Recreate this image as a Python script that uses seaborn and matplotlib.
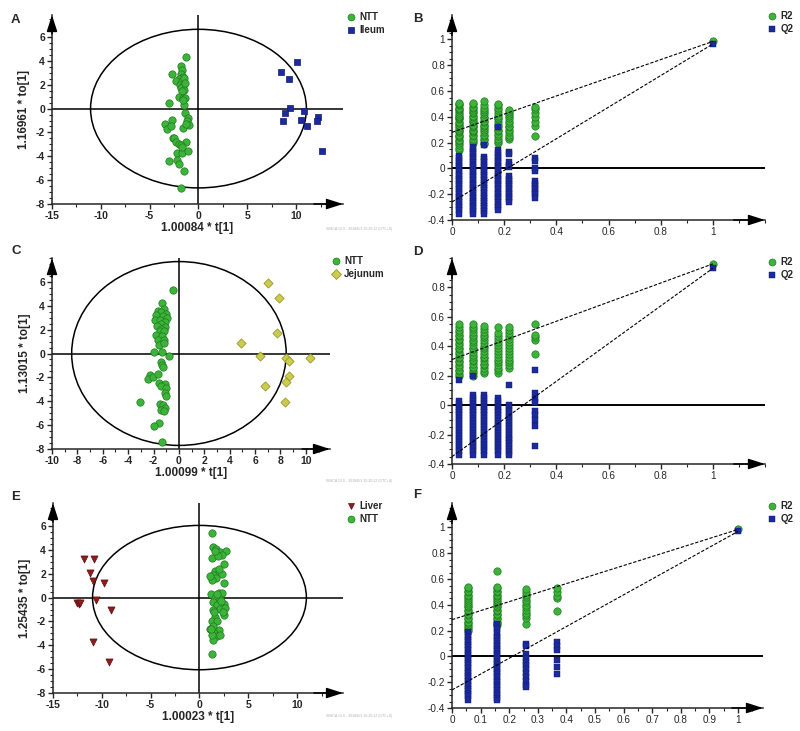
import numpy as np
import pandas as pd
import matplotlib
matplotlib.use("Agg")
import matplotlib.pyplot as plt
import seaborn as sns
from matplotlib.patches import Ellipse
from matplotlib.lines import Line2D
from matplotlib.ticker import MultipleLocator, FixedLocator

sns.set_style("ticks")
plt.rcParams["font.family"] = ["Liberation Sans", "DejaVu Sans"]

# ---------------- data: score plots ----------------
A_NTT_X = [-1.27, -1.78, -1.68, -2.7, -1.78, -1.6, -1.95, -2.3, -1.68, -1.9, -1.55, -1.8, -1.45, -1.7, -1.95, -1.6,
           -1.4, -3.0, -1.45, -1.4, -1.03, -1.2, -2.75, -1.0, -3.4, -3.2, -2.85, -1.55, -2.65, -2.5, -2.3, -1.27,
           -1.95, -1.78, -2.2, -1.68, -1.1, -3.0, -2.2, -1.95, -1.47, -1.78, -1.45, -1.4, -1.55, -1.27, -1.7]
A_NTT_Y = [4.3, 3.55, 3.27, 2.9, 2.9, 2.65, 2.5, 2.3, 2.3, 2.0, 1.9, 1.7, 1.6, 1.45, 0.95, 0.9, 0.85, 0.45, 0.3,
           -0.4, -0.8, -1.0, -0.95, -1.4, -1.3, -1.75, -1.5, -1.65, -2.45, -2.5, -2.8, -2.8, -2.95, -3.05, -3.7,
           -3.7, -3.55, -4.4, -4.35, -4.65, -5.25, -6.65, 2.55, 2.15, 0.75, -1.25, -3.2]
A_ILEUM_X = [10.07, 8.4, 9.25, 9.4, 10.8, 8.9, 12.2, 8.65, 10.5, 12.1, 11.15, 12.6]
A_ILEUM_Y = [3.9, 3.1, 2.45, 0.08, -0.2, -0.4, -0.73, -1.0, -0.95, -1.05, -1.45, -3.55]

C_NTT_X = [-0.45, -1.3, -1.2, -1.65, -1.4, -1.0, -1.8, -1.26, -0.95, -1.87, -1.53, -1.13, -1.4, -1.73, -1.08, -1.4,
           -1.53, -1.2, -1.8, -1.3, -1.66, -1.2, -1.58, -1.2, -1.97, -1.35, -0.8, -1.45, -1.35, -1.26, -2.3, -2.4,
           -2.05, -1.68, -1.58, -1.13, -1.4, -1.0, -1.08, -1.0, -3.1, -1.53, -1.26, -1.08, -1.4, -1.2, -1.58, -2.0,
           -1.37]
C_NTT_Y = [5.3, 4.25, 3.75, 3.55, 3.45, 3.3, 3.2, 3.1, 3.0, 2.78, 2.78, 2.65, 2.45, 2.28, 2.2, 2.08, 1.9, 1.85,
           1.55, 1.5, 1.17, 1.1, 0.7, 0.9, 0.1, 0.1, -0.2, -0.7, -0.97, -1.15, -1.8, -2.15, -1.95, -1.75, -2.5,
           -2.55, -2.7, -2.9, -3.3, -3.6, -4.05, -4.25, -4.35, -4.6, -4.7, -4.85, -5.8, -6.1, -7.45]
C_JEJ_X = [7.05, 7.9, 7.75, 4.9, 6.4, 8.45, 8.7, 10.3, 8.65, 6.8, 8.4, 8.35]
C_JEJ_Y = [5.9, 4.65, 1.7, 0.85, -0.2, -0.35, -0.6, -0.4, -1.85, -2.75, -2.4, -4.05]

E_LIVER_X = [-11.8, -10.85, -11.2, -10.9, -9.8, -12.5, -12.3, -12.2, -10.6, -9.1, -10.9, -9.3]
E_LIVER_Y = [3.2, 3.2, 2.1, 1.4, 1.25, -0.45, -0.5, -0.42, -0.22, -1.05, -3.75, -5.4]
E_NTT_X = [1.31, 1.34, 1.68, 2.06, 2.74, 2.3, 1.3, 1.92, 2.47, 1.54, 1.95, 2.3, 1.4, 1.71, 2.47, 1.33, 1.2, 1.95,
           2.3, 1.61, 2.1, 1.4, 2.47, 1.78, 2.1, 1.4, 2.57, 2.47, 1.61, 1.3, 1.78, 1.4, 1.03, 1.95, 1.47, 1.78,
           1.4, 1.3, 2.06, 1.3, 1.1, 1.6, 2.2, 1.5, 1.2, 2.0, 1.8, 2.4]
E_NTT_Y = [5.44, 4.27, 4.08, 3.8, 3.94, 3.6, 3.3, 3.45, 2.83, 2.27, 2.13, 2.0, 1.9, 1.67, 1.22, 1.5, 0.33, 0.4,
           0.4, 0.0, -0.15, -0.4, -0.5, -0.6, -0.95, -1.05, -0.9, -1.45, -1.6, -2.0, -2.0, -2.4, -2.67, -2.72,
           -2.96, -3.2, -3.56, -4.75, -3.1, -3.1, 1.8, 3.9, -0.3, -1.2, -2.6, 2.4, 0.3, -1.2]

# ---------------- data: permutation plots ----------------
B_X = [0.027, 0.08, 0.123, 0.176, 0.22, 0.317]
B_R2 = [
    [0.14, 0.16, 0.18, 0.2, 0.21, 0.22, 0.24, 0.25, 0.26, 0.28, 0.29, 0.3, 0.31, 0.33, 0.34, 0.35, 0.36, 0.38,
     0.39, 0.4, 0.41, 0.42, 0.44, 0.45, 0.46, 0.47, 0.49, 0.5, 0.51],
    [0.2, 0.21, 0.23, 0.25, 0.26, 0.28, 0.29, 0.3, 0.32, 0.33, 0.34, 0.36, 0.37, 0.38, 0.4, 0.41, 0.43, 0.44,
     0.45, 0.47, 0.48, 0.5, 0.51],
    [0.19, 0.2, 0.22, 0.23, 0.25, 0.26, 0.28, 0.3, 0.31, 0.33, 0.34, 0.36, 0.37, 0.39, 0.4, 0.42, 0.44, 0.45,
     0.47, 0.49, 0.52],
    [0.2, 0.21, 0.23, 0.25, 0.27, 0.29, 0.3, 0.32, 0.34, 0.36, 0.38, 0.39, 0.41, 0.43, 0.45, 0.47, 0.49, 0.5],
    [0.23, 0.24, 0.26, 0.28, 0.3, 0.32, 0.33, 0.35, 0.37, 0.39, 0.41, 0.42, 0.44, 0.45],
    [0.25, 0.33, 0.36, 0.4, 0.43, 0.46, 0.48],
]
B_Q2 = [
    [0.1, 0.08, 0.06, 0.04, 0.02, 0.0, -0.02, -0.04, -0.06, -0.08, -0.1, -0.12, -0.14, -0.16, -0.18, -0.2, -0.22,
     -0.24, -0.26, -0.28, -0.3, -0.32, -0.35],
    [0.17, 0.15, 0.13, 0.11, 0.09, 0.07, 0.05, 0.03, 0.01, -0.01, -0.03, -0.05, -0.07, -0.09, -0.11, -0.13,
     -0.15, -0.17, -0.19, -0.21, -0.23, -0.25, -0.27, -0.29, -0.31, -0.33, -0.35],
    [0.18, 0.09, 0.07, 0.05, 0.03, 0.01, -0.01, -0.03, -0.05, -0.07, -0.09, -0.11, -0.13, -0.15, -0.17, -0.19,
     -0.21, -0.23, -0.25, -0.27, -0.29, -0.31, -0.33, -0.35],
    [0.32, 0.14, 0.12, 0.1, 0.08, 0.06, 0.04, 0.02, 0.0, -0.02, -0.04, -0.06, -0.08, -0.1, -0.12, -0.14, -0.16,
     -0.18, -0.2, -0.22, -0.24, -0.26, -0.28, -0.3, -0.32],
    [0.13, 0.11, 0.05, 0.03, 0.01, -0.06, -0.08, -0.1, -0.12, -0.14, -0.16, -0.18, -0.2, -0.22, -0.24, -0.26],
    [0.08, 0.06, 0.0, -0.02, -0.1, -0.12, -0.14, -0.16, -0.18, -0.2, -0.23],
]
B_ORIG = [0.985, 0.965]          # R2, Q2 of the real model (x = 1)
B_INTERCEPT = [0.28, -0.26]      # regression intercepts R2, Q2

D_X = [0.027, 0.08, 0.123, 0.176, 0.22, 0.317]
D_R2 = [
    [0.2, 0.21, 0.23, 0.24, 0.26, 0.27, 0.29, 0.3, 0.32, 0.33, 0.35, 0.36, 0.38, 0.39, 0.41, 0.42, 0.44, 0.45,
     0.47, 0.48, 0.5, 0.51, 0.53, 0.55],
    [0.2, 0.22, 0.23, 0.25, 0.26, 0.28, 0.3, 0.31, 0.33, 0.34, 0.36, 0.38, 0.39, 0.41, 0.43, 0.44, 0.46, 0.48,
     0.5, 0.52, 0.53, 0.55],
    [0.22, 0.23, 0.25, 0.27, 0.28, 0.3, 0.32, 0.33, 0.35, 0.37, 0.39, 0.4, 0.42, 0.44, 0.46, 0.48, 0.5, 0.52,
     0.54],
    [0.22, 0.24, 0.25, 0.27, 0.29, 0.31, 0.33, 0.35, 0.37, 0.39, 0.41, 0.43, 0.45, 0.47, 0.49, 0.53],
    [0.25, 0.27, 0.29, 0.31, 0.33, 0.35, 0.37, 0.39, 0.41, 0.43, 0.45, 0.47, 0.49, 0.51, 0.53],
    [0.35, 0.44, 0.46, 0.48, 0.55],
]
D_Q2 = [
    [0.17, 0.03, 0.01, -0.01, -0.03, -0.05, -0.07, -0.09, -0.11, -0.13, -0.15, -0.17, -0.19, -0.21, -0.23, -0.25,
     -0.27, -0.29, -0.31, -0.34],
    [0.2, 0.07, 0.05, 0.03, 0.01, -0.01, -0.03, -0.05, -0.07, -0.09, -0.11, -0.13, -0.15, -0.17, -0.19, -0.21,
     -0.23, -0.25, -0.27, -0.29, -0.31, -0.34],
    [0.07, 0.05, 0.03, 0.01, -0.01, -0.03, -0.05, -0.07, -0.09, -0.11, -0.13, -0.15, -0.17, -0.19, -0.21, -0.23,
     -0.25, -0.27, -0.29, -0.31, -0.34],
    [0.05, 0.03, 0.01, -0.01, -0.03, -0.05, -0.07, -0.09, -0.11, -0.13, -0.15, -0.17, -0.19, -0.21, -0.23, -0.25,
     -0.27, -0.29, -0.31, -0.34],
    [0.14, 0.0, -0.02, -0.04, -0.06, -0.08, -0.1, -0.12, -0.14, -0.16, -0.18, -0.2, -0.22, -0.24, -0.26, -0.28,
     -0.3, -0.32, -0.34],
    [0.24, 0.08, 0.04, 0.02, -0.04, -0.07, -0.1, -0.14, -0.28],
]
D_ORIG = [0.96, 0.93]
D_INTERCEPT = [0.31, -0.35]

F_X = [0.056, 0.158, 0.26, 0.366]
F_R2 = [
    [0.2, 0.21, 0.23, 0.24, 0.26, 0.27, 0.29, 0.3, 0.32, 0.33, 0.35, 0.36, 0.38, 0.39, 0.41, 0.42, 0.44, 0.45,
     0.47, 0.48, 0.5, 0.51, 0.53, 0.54],
    [0.24, 0.26, 0.27, 0.29, 0.3, 0.32, 0.33, 0.35, 0.36, 0.38, 0.39, 0.41, 0.42, 0.44, 0.45, 0.47, 0.48, 0.5,
     0.51, 0.53, 0.54, 0.66],
    [0.25, 0.3, 0.32, 0.34, 0.36, 0.38, 0.4, 0.42, 0.44, 0.46, 0.48, 0.5, 0.52],
    [0.35, 0.45, 0.47, 0.5, 0.53],
]
F_Q2 = [
    [0.19, 0.17, 0.15, 0.13, 0.11, 0.09, 0.07, 0.05, 0.03, 0.01, -0.01, -0.03, -0.05, -0.07, -0.09, -0.11, -0.13,
     -0.15, -0.17, -0.19, -0.21, -0.23, -0.25, -0.27, -0.29, -0.31, -0.34],
    [0.25, 0.23, 0.21, 0.18, 0.16, 0.14, 0.12, 0.1, 0.08, 0.06, 0.04, 0.02, 0.0, -0.02, -0.04, -0.06, -0.08,
     -0.1, -0.12, -0.14, -0.16, -0.18, -0.2, -0.22, -0.24, -0.26, -0.28, -0.3, -0.32, -0.34],
    [0.1, 0.08, 0.02, -0.01, -0.04, -0.07, -0.1, -0.13, -0.16, -0.19, -0.22, -0.24],
    [0.11, 0.08, 0.05, -0.03, -0.08, -0.14],
]
F_ORIG = [0.985, 0.97]
F_INTERCEPT = [0.285, -0.26]

# ---------------- styling ----------------
GREEN, GREEN_E = "#3cb43a", "#1f7a1d"
BLUE, BLUE_E = "#1b2a9e", "#101a70"
YELLOW, YELLOW_E = "#cccc4c", "#8c8c22"
RED, RED_E = "#8e1c1c", "#5e0e0e"

W, H = 800, 731
fig = plt.figure(figsize=(W / 100, H / 100), dpi=100)


def px_rect(x0, x1, ytop, ybot):
    return [x0 / W, (H - ybot) / H, (x1 - x0) / W, (ybot - ytop) / H]


def fmt_num(v, pos):
    s = f"{v:.10g}"
    return "0" if s in ("0", "-0") else s


def style_axes(ax, xlim, ylim, xmaj, xmin, xtop, ymaj, ymin, ytop, bold):
    ax.set_xlim(xlim)
    ax.set_ylim(ylim)
    sns.despine(ax=ax)
    for s in ("left", "bottom"):
        ax.spines[s].set_linewidth(1.1)
    ax.xaxis.set_major_locator(FixedLocator(np.round(np.arange(xlim[0], xtop + 1e-9, xmaj), 6)))
    ax.xaxis.set_minor_locator(MultipleLocator(xmin))
    ax.yaxis.set_major_locator(FixedLocator(np.round(np.arange(ylim[0], ytop + 1e-9, ymaj), 6)))
    ax.yaxis.set_minor_locator(MultipleLocator(ymin))
    ax.xaxis.set_major_formatter(fmt_num)
    ax.yaxis.set_major_formatter(fmt_num)
    ax.tick_params(which="major", direction="out", length=3.5, width=1.0, pad=1.5,
                   labelsize=7.5 if bold else 7.2)
    ax.tick_params(which="minor", direction="out", length=2, width=0.8)
    for lab in ax.get_xticklabels() + ax.get_yticklabels():
        lab.set_fontweight("bold" if bold else "normal")
    ax.set_xlabel("")
    ax.set_ylabel("")
    ap = dict(arrowstyle="-|>,head_length=1.0,head_width=0.32", color="k", lw=1.1, shrinkA=0, shrinkB=0)
    ax.annotate("", xy=(1, 0), xytext=(0.9, 0), xycoords="axes fraction", arrowprops=ap,
                annotation_clip=False)
    ax.annotate("", xy=(0, 1), xytext=(0, 0.9), xycoords="axes fraction", arrowprops=ap,
                annotation_clip=False)


def legend_at(ax, handles, labels, xpx, ypx):
    ax.legend(handles, labels, loc="upper left", bbox_to_anchor=(xpx / W, 1 - ypx / H),
              bbox_transform=fig.transFigure, frameon=False, borderpad=0, borderaxespad=0,
              handlelength=0.7, handletextpad=0.45, labelspacing=0.35,
              prop=dict(size=7, weight="bold"))


def score_panel(rect, groups, xlim, ylim, xmaj, xmin, xtop, ell, xlabel, ylabel, letter, lpos, legpos, wm):
    ax = fig.add_axes(rect)
    handles, labels = [], []
    for name, xs, ys, mk, col, ecol, size in groups:
        df = pd.DataFrame({"x": xs, "y": ys})
        sns.scatterplot(data=df, x="x", y="y", marker=mk, s=size, color=col, edgecolor=ecol,
                        linewidth=0.5, ax=ax, legend=False, zorder=3)
        handles.append(Line2D([], [], ls="", marker=mk, ms=5, mfc=col, mec=ecol, mew=0.5))
        labels.append(name)
    ax.axhline(0, color="k", lw=1.1, zorder=2)
    ax.axvline(0, color="k", lw=1.1, zorder=2)
    ax.add_patch(Ellipse((0, 0), 2 * ell[0], 2 * ell[1], fill=False, ec="k", lw=1.1, zorder=2))
    style_axes(ax, xlim, ylim, xmaj, xmin, xtop, 2, 0.5, 6, True)
    ax.set_xlabel(xlabel, fontsize=8.5, fontweight="bold")
    ax.set_ylabel(ylabel, fontsize=8.5, fontweight="bold")
    ax.xaxis.set_label_coords(0.5, -0.095)
    ax.yaxis.set_label_coords(-0.075, 0.5)
    fig.text(lpos[0] / W, 1 - lpos[1] / H, letter, fontsize=9.5, fontweight="bold", ha="left", va="center")
    legend_at(ax, handles, labels, *legpos)
    fig.text(wm[0] / W, 1 - wm[1] / H, "SIMCA 13.0 - 2018/6/3 15:20:12 (UTC+8)", fontsize=2.6,
             color="#b0b0b0", ha="right", va="center")
    return ax


def perm_panel(rect, xs, r2, q2, orig, icpt, xlim, ylim, xmaj, xmin, ytop, letter, lpos, legpos):
    ax = fig.add_axes(rect)
    rx, ry, qx, qy = [], [], [], []
    for x, vals in zip(xs, r2):
        rx += [x] * len(vals)
        ry += vals
    for x, vals in zip(xs, q2):
        qx += [x] * len(vals)
        qy += vals
    rx.append(1.0); ry.append(orig[0])
    qx.append(1.0); qy.append(orig[1])
    ax.axhline(0, color="k", lw=1.4, zorder=2)
    sns.scatterplot(data=pd.DataFrame({"x": rx, "y": ry}), x="x", y="y", marker="o", s=28,
                    color=GREEN, edgecolor=GREEN_E, linewidth=0.5, ax=ax, legend=False, zorder=3)
    sns.scatterplot(data=pd.DataFrame({"x": qx, "y": qy}), x="x", y="y", marker="s", s=20,
                    color=BLUE, edgecolor=BLUE_E, linewidth=0.3, ax=ax, legend=False, zorder=4)
    sns.lineplot(x=[0, 1], y=[icpt[0], orig[0]], color="k", lw=0.8, ls=(0, (3, 1.5)), ax=ax, zorder=5)
    sns.lineplot(x=[0, 1], y=[icpt[1], orig[1]], color="k", lw=0.8, ls=(0, (3, 1.5)), ax=ax, zorder=5)
    style_axes(ax, xlim, ylim, xmaj, xmin, 1.0, 0.2, 0.05, ytop, False)
    fig.text(lpos[0] / W, 1 - lpos[1] / H, letter, fontsize=9.5, fontweight="bold", ha="left", va="center")
    handles = [Line2D([], [], ls="", marker="o", ms=5, mfc=GREEN, mec=GREEN_E, mew=0.5),
               Line2D([], [], ls="", marker="s", ms=4.5, mfc=BLUE, mec=BLUE_E, mew=0.3)]
    legend_at(ax, handles, ["R2", "Q2"], *legpos)
    return ax


# ---------------- panels ----------------
score_panel(px_rect(52, 343, 15, 204),
            [("NTT", A_NTT_X, A_NTT_Y, "o", GREEN, GREEN_E, 28),
             ("Ileum", A_ILEUM_X, A_ILEUM_Y, "s", BLUE, BLUE_E, 24)],
            (-15, 14.8), (-8, 7.85), 5, 2.5, 10, (11.05, 6.65),
            "1.00084 * t[1]", "1.16961 * to[1]", "A", (11, 20), (348, 12), (392, 229))

perm_panel(px_rect(452, 765, 15, 220), B_X, B_R2, B_Q2, B_ORIG, B_INTERCEPT,
           (0, 1.2), (-0.4, 1.19), 0.2, 0.1, 1.0, "B", (413, 19), (769, 11))

score_panel(px_rect(52, 330, 258, 449),
            [("NTT", C_NTT_X, C_NTT_Y, "o", GREEN, GREEN_E, 28),
             ("Jejunum", C_JEJ_X, C_JEJ_Y, "D", YELLOW, YELLOW_E, 22)],
            (-10, 11.9), (-8, 8.0), 2, 1, 10, (8.45, 7.7),
            "1.00099 * t[1]", "1.13015 * to[1]", "C", (11, 251), (333, 256), (392, 481))

perm_panel(px_rect(452, 765, 258, 464), D_X, D_R2, D_Q2, D_ORIG, D_INTERCEPT,
           (0, 1.2), (-0.4, 1.0), 0.2, 0.1, 0.8, "D", (413, 252), (769, 257))

score_panel(px_rect(53, 343, 503, 693),
            [("Liver", E_LIVER_X, E_LIVER_Y, "v", RED, RED_E, 26),
             ("NTT", E_NTT_X, E_NTT_Y, "o", GREEN, GREEN_E, 28)],
            (-15, 14.7), (-8, 7.93), 5, 2.5, 10, (10.95, 6.05),
            "1.00023 * t[1]", "1.25435 * to[1]", "E", (11, 497), (348, 501), (392, 716))

perm_panel(px_rect(452, 763, 503, 708), F_X, F_R2, F_Q2, F_ORIG, F_INTERCEPT,
           (0, 1.087), (-0.4, 1.19), 0.1, 0.05, 1.0, "F", (413, 495), (769, 501))

fig.savefig("out.png", dpi=100, facecolor="white")
